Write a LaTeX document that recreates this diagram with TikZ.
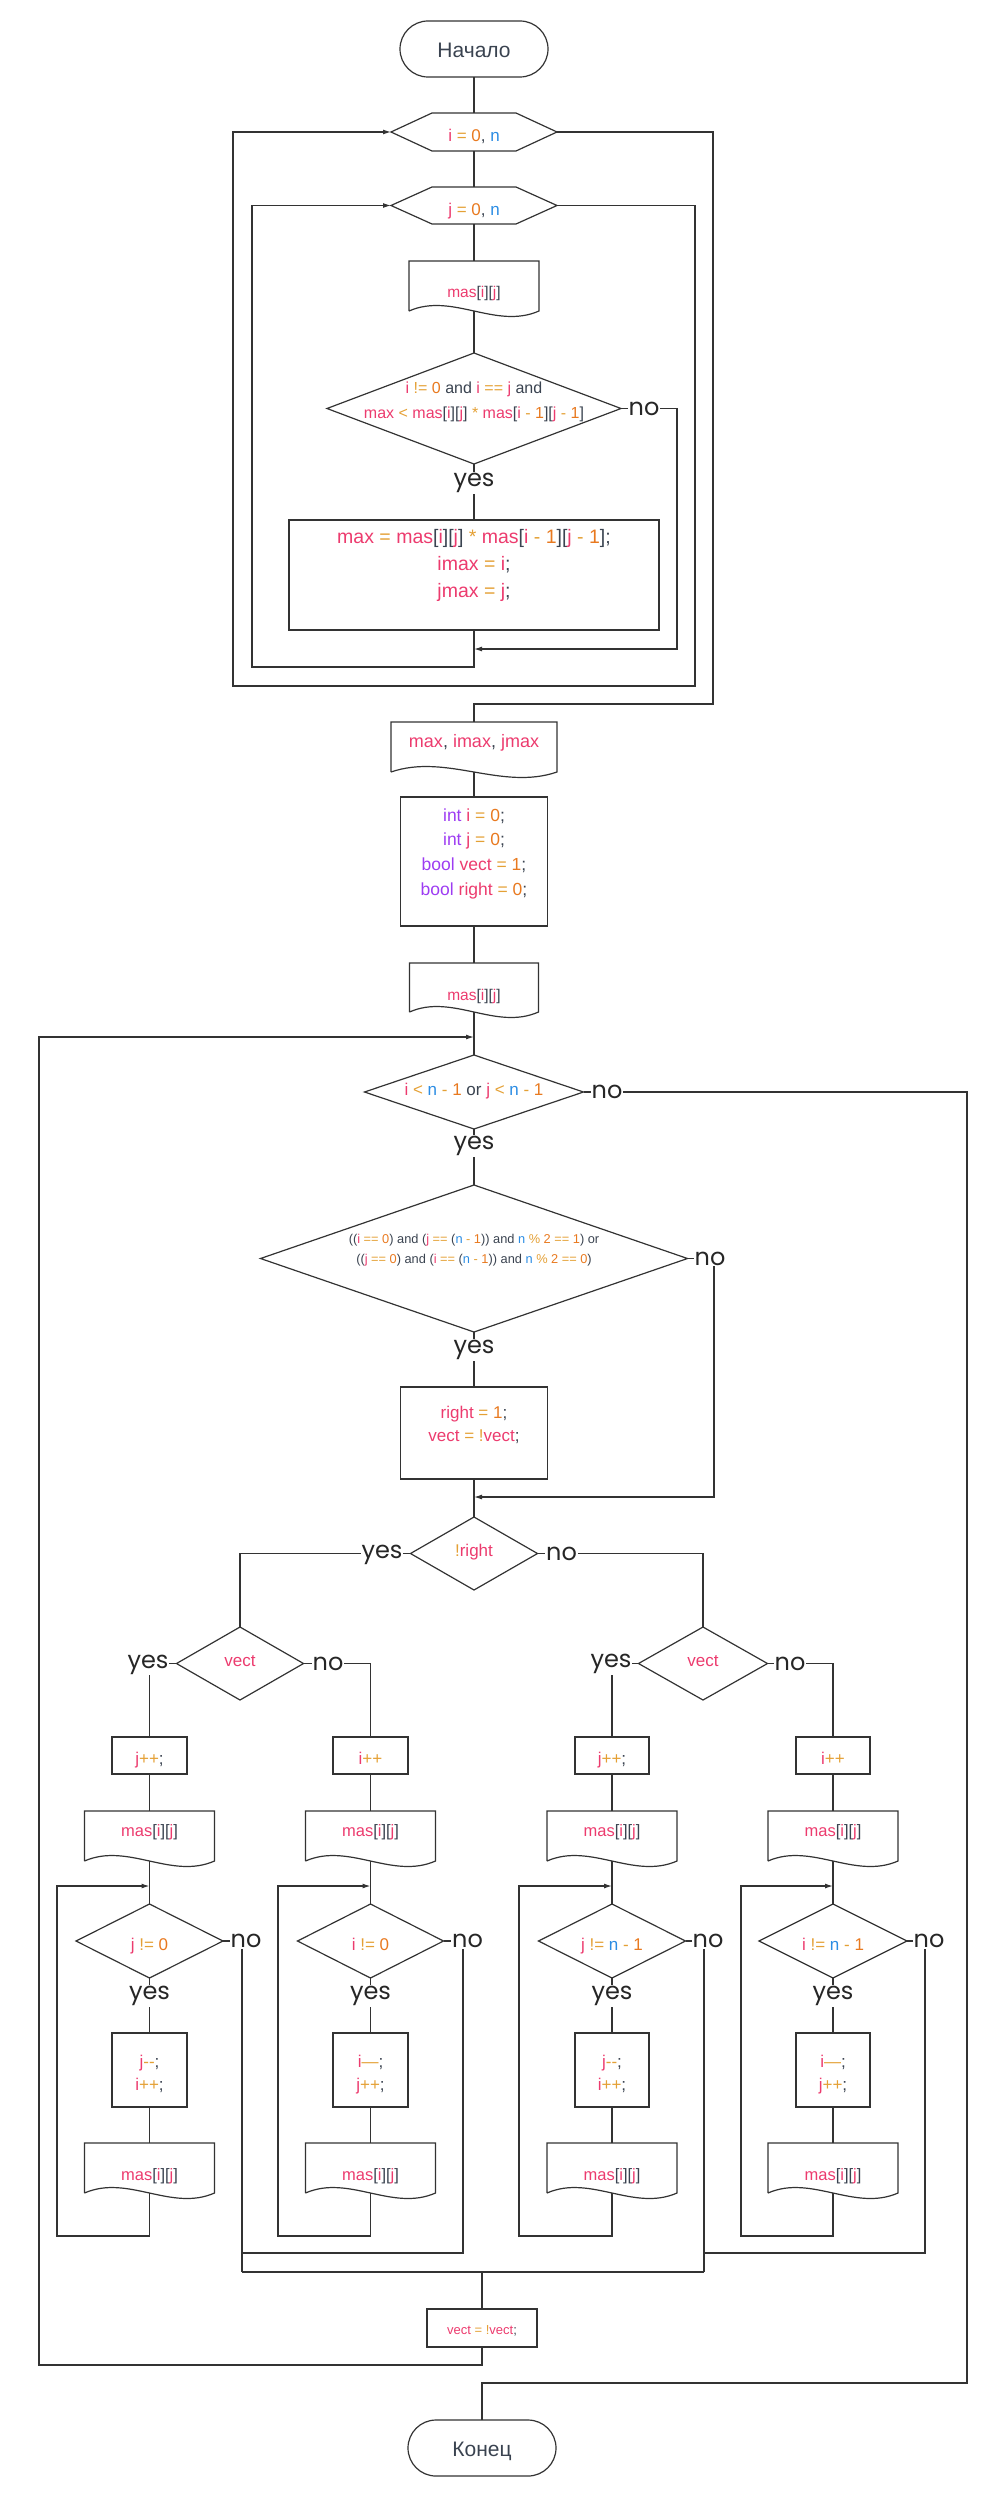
\documentclass[tikz,border=0pt]{standalone}
\usepackage{fontspec}
\setmainfont{Liberation Sans}
\newfontfamily\lblfont{Poppins}
\usetikzlibrary{arrows.meta,calc}
\definecolor{cvar}{HTML}{EC3B6E}
\definecolor{cop}{HTML}{E4A035}
\definecolor{cnum}{HTML}{E8791F}
\definecolor{cblu}{HTML}{2B8CE3}
\definecolor{ckw}{HTML}{9D3CF2}
\definecolor{cgr}{HTML}{3A4350}
\definecolor{lc}{HTML}{333333}
\newcommand\cVar[1]{\textcolor{cvar}{#1}}
\newcommand\cOp[1]{\textcolor{cop}{#1}}
\newcommand\cNum[1]{\textcolor{cnum}{#1}}
\newcommand\cBl[1]{\textcolor{cblu}{#1}}
\newcommand\cKw[1]{\textcolor{ckw}{#1}}
\newcommand\masij{\cVar{mas}[\cVar{i}][\cVar{j}]}
\newcommand\fs[2]{\fontsize{#1pt}{#2pt}\selectfont}
\newcommand\tx[2]{\raisebox{-#1pt}[0pt][0pt]{\begin{tabular}[t]{@{}c@{}}#2\end{tabular}}}
\newcommand\dmd[1]{\draw[ln] (#1.north) -- (#1.east) -- (#1.south) -- (#1.west) -- cycle;}
\newcommand\hexa[1]{\draw[ln] (#1.west) -- ([xshift=41pt]#1.north west) -- ([xshift=-41pt]#1.north east) -- (#1.east) -- ([xshift=-41pt]#1.south east) -- ([xshift=41pt]#1.south west) -- cycle;}
\newcommand\wdoc[1]{\draw[ln] (#1.south west) -- (#1.north west) -- (#1.north east) -- (#1.south east) .. controls ($(#1.south east)!0.333!(#1.south west)+(0,19)$) and ($(#1.south east)!0.667!(#1.south west)+(0,-19)$) .. (#1.south west);}
\tikzset{
  ln/.style={draw=lc, line width=1.2pt},
  arr/.style={ln, -{Latex[length=8pt,width=5pt]}},
  shp/.style={inner sep=0pt, outer sep=0pt, text=cgr},
  pbox/.style={shp, draw=lc, line width=1.2pt},
  term/.style={pbox, rounded corners=28pt, minimum width=148pt, minimum height=56pt, font=\fs{21}{25}},
  lbl/.style={font=\lblfont\fs{24}{24}, fill=white, inner sep=1pt, text=black!85}
}
\begin{document}
\begin{tikzpicture}[x=1pt,y=-1pt]
\useasboundingbox (0,0) rectangle (1002,2499);
% ---------- top part ----------
\node[term] (start) at (474,49) {\tx{8.3}{Начало}};
\node[shp, minimum width=166pt, minimum height=38pt, font=\fs{17}{22}] (hexI) at (474,132) {\tx{9.7}{\cVar{i} \cOp{=} \cNum{0}, \cBl{n}}};
\node[shp, minimum width=166pt, minimum height=37pt, font=\fs{17}{22}] (hexJ) at (474,205.5) {\tx{9.8}{\cVar{j} \cOp{=} \cNum{0}, \cBl{n}}};
\node[shp, minimum width=130pt, minimum height=50pt, font=\fs{15.5}{20}] (doc1) at (474,286) {\tx{12}{\masij}};
\node[shp, minimum width=294pt, minimum height=111pt, font=\fs{16}{25}] (dia1) at (474,408.5) {\tx{-15.2}{\cVar{i} \cOp{!=} \cNum{0} and \cVar{i} \cOp{==} \cVar{j} and\\ \cVar{max} \cOp{<} \masij{} \cOp{*} \cVar{mas}[\cVar{i} \cOp{-} \cNum{1}][\cVar{j} \cOp{-} \cNum{1}]}};
\node[pbox, minimum width=370pt, minimum height=110pt, font=\fs{19.5}{27.2}] (proc1) at (474,575) {\tx{-31.7}{\cVar{max} \cOp{=} \masij{} \cOp{*} \cVar{mas}[\cVar{i} \cOp{-} \cNum{1}][\cVar{j} \cOp{-} \cNum{1}];\\ \cVar{imax} \cOp{=} \cVar{i};\\ \cVar{jmax} \cOp{=} \cVar{j};}};
% ---------- middle part ----------
\node[shp, minimum width=166pt, minimum height=50pt, font=\fs{18}{22}] (doc2) at (474,747) {\tx{0}{\cVar{max}, \cVar{imax}, \cVar{jmax}}};
\node[pbox, minimum width=147pt, minimum height=129pt, font=\fs{17.5}{24.7}] (proc2) at (474,861.5) {\tx{-40.5}{\cKw{int} \cVar{i} \cOp{=} \cNum{0};\\ \cKw{int} \cVar{j} \cOp{=} \cNum{0};\\ \cKw{bool} \cVar{vect} \cOp{=} \cNum{1};\\ \cKw{bool} \cVar{right} \cOp{=} \cNum{0};}};
\node[shp, minimum width=129pt, minimum height=49pt, font=\fs{15.5}{20}] (doc3) at (474,987.5) {\tx{12.5}{\masij}};
\node[shp, minimum width=219pt, minimum height=74pt, font=\fs{17}{22}] (dia2) at (474,1092) {\tx{3.7}{\cVar{i} \cOp{<} \cBl{n} \cOp{-} \cNum{1} or \cVar{j} \cOp{<} \cBl{n} \cOp{-} \cNum{1}}};
\node[shp, minimum width=427pt, minimum height=147pt, font=\fs{12.8}{20}] (dia3) at (474,1258.5) {\tx{-15.2}{((\cVar{i} \cOp{==} \cNum{0}) and (\cVar{j} \cOp{==} (\cBl{n} \cOp{-} \cNum{1})) and \cBl{n} \cOp{\%} \cNum{2} \cOp{==} \cNum{1}) or\\ ((\cVar{j} \cOp{==} \cNum{0}) and (\cVar{i} \cOp{==} (\cBl{n} \cOp{-} \cNum{1})) and \cBl{n} \cOp{\%} \cNum{2} \cOp{==} \cNum{0})}};
\node[pbox, minimum width=147pt, minimum height=92pt, font=\fs{17}{23.4}] (proc3) at (474,1433) {\tx{-14.7}{\cVar{right} \cOp{=} \cNum{1};\\ \cVar{vect} \cOp{=} \cOp{!}\cVar{vect};}};
\node[shp, minimum width=127pt, minimum height=73pt, font=\fs{17}{22}] (dia4) at (474,1553.5) {\tx{3.2}{\cOp{!}\cVar{right}}};
% ---------- branches ----------
\node[shp, minimum width=127pt, minimum height=73pt, font=\fs{17}{22}] (dL) at (240,1663.5) {\tx{3.2}{\cVar{vect}}};
\node[shp, minimum width=129pt, minimum height=73pt, font=\fs{17}{22}] (dR) at (703,1663.5) {\tx{3.2}{\cVar{vect}}};
\node[pbox, minimum width=75pt, minimum height=37pt, font=\fs{17}{22}] (bA) at (149.5,1755.5) {\tx{8.5}{\cVar{j}\cOp{++};}};
\node[pbox, minimum width=75pt, minimum height=37pt, font=\fs{17}{22}] (bB) at (370.5,1755.5) {\tx{8.5}{\cVar{i}\cOp{++}}};
\node[pbox, minimum width=74pt, minimum height=37pt, font=\fs{17}{22}] (bC) at (612,1755.5) {\tx{8.5}{\cVar{j}\cOp{++};}};
\node[pbox, minimum width=74pt, minimum height=37pt, font=\fs{17}{22}] (bD) at (833,1755.5) {\tx{8.5}{\cVar{i}\cOp{++}}};
\foreach \nm/\xx in {dA/149.5,dB/370.5,dC/612,dD/833}{
  \node[shp, minimum width=130pt, minimum height=50pt, font=\fs{16.5}{20}] (\nm) at (\xx,1836) {\tx{0.7}{\masij}};
}
\node[shp, minimum width=147pt, minimum height=74pt, font=\fs{17}{22}] (qA) at (149.5,1941) {\tx{9}{\cVar{j} \cOp{!=} \cNum{0}}};
\node[shp, minimum width=146pt, minimum height=74pt, font=\fs{17}{22}] (qB) at (370.5,1941) {\tx{9}{\cVar{i} \cOp{!=} \cNum{0}}};
\node[shp, minimum width=147pt, minimum height=74pt, font=\fs{17}{22}] (qC) at (612,1941) {\tx{9}{\cVar{j} \cOp{!=} \cBl{n} \cOp{-} \cNum{1}}};
\node[shp, minimum width=148pt, minimum height=74pt, font=\fs{17}{22}] (qD) at (833,1941) {\tx{9}{\cVar{i} \cOp{!=} \cBl{n} \cOp{-} \cNum{1}}};
\node[pbox, minimum width=75pt, minimum height=74pt, font=\fs{17}{23.5}] (eA) at (149.5,2070) {\tx{-3}{\cVar{j}\cOp{-{}-};\\ \cVar{i}\cOp{++};}};
\node[pbox, minimum width=75pt, minimum height=74pt, font=\fs{17}{23.5}] (eB) at (370.5,2070) {\tx{-3}{\cVar{i}\cOp{—};\\ \cVar{j}\cOp{++};}};
\node[pbox, minimum width=74pt, minimum height=74pt, font=\fs{17}{23.5}] (eC) at (612,2070) {\tx{-3}{\cVar{j}\cOp{-{}-};\\ \cVar{i}\cOp{++};}};
\node[pbox, minimum width=74pt, minimum height=74pt, font=\fs{17}{23.5}] (eD) at (833,2070) {\tx{-3}{\cVar{i}\cOp{—};\\ \cVar{j}\cOp{++};}};
\foreach \nm/\xx in {fA/149.5,fB/370.5,fC/612,fD/833}{
  \node[shp, minimum width=130pt, minimum height=50pt, font=\fs{16.5}{20}] (\nm) at (\xx,2168) {\tx{12.7}{\masij}};
}
\node[pbox, minimum width=110pt, minimum height=38pt, font=\fs{13}{16}] (vb) at (482,2328) {\tx{6}{\cVar{vect} \cOp{=} \cOp{!}\cVar{vect};}};
\node[term] (fin) at (482,2448) {\tx{8.7}{Конец}};
% ---------- outlines ----------
\hexa{hexI} \hexa{hexJ}
\wdoc{doc1} \wdoc{doc2} \wdoc{doc3}
\dmd{dia1} \dmd{dia2} \dmd{dia3} \dmd{dia4} \dmd{dL} \dmd{dR}
\dmd{qA} \dmd{qB} \dmd{qC} \dmd{qD}
\wdoc{dA} \wdoc{dB} \wdoc{dC} \wdoc{dD}
\wdoc{fA} \wdoc{fB} \wdoc{fC} \wdoc{fD}
% ---------- coordinates ----------
\coordinate (j1) at (474,649);
\coordinate (c1) at (677,649);
\coordinate (c2) at (252,667);
\coordinate (c3) at (695,686);
\coordinate (c4) at (233,686);
\coordinate (c5) at (713,704);
\coordinate (jM) at (474,1037);
\coordinate (j3) at (474,1497);
\coordinate (c6) at (714,1497);
\coordinate (jA) at (149.5,1886); \coordinate (lA) at (57,2236);
\coordinate (jB) at (370.5,1886); \coordinate (lB) at (278,2236);
\coordinate (jC) at (612,1886); \coordinate (lC) at (519,2236);
\coordinate (jD) at (833,1886); \coordinate (lD) at (741,2236);
\coordinate (mA) at (242,2272); \coordinate (mC) at (704,2272);
\coordinate (kA) at (242,2253); \coordinate (kB) at (463,2253);
\coordinate (kC) at (704,2253); \coordinate (kD) at (925,2253);
\coordinate (mM) at (482,2272);
\coordinate (lM) at (39,2365);
\coordinate (cE) at (967,2383);
% ---------- connectors: top ----------
\draw[ln] (start.south) -- (hexI.north);
\draw[ln] (hexI.south) -- (hexJ.north);
\draw[ln] (hexJ.south) -- (doc1.north);
\draw[ln] (doc1.south) -- (dia1.north);
\draw[ln] (dia1.south) -- (proc1.north);
\draw[arr] (dia1.east) -| (c1) -- (j1);
\draw[arr] (proc1.south) |- (c2) |- (hexJ.west);
\draw[arr] (hexJ.east) -| (c3) -- (c4) |- (hexI.west);
\draw[ln] (hexI.east) -| (c5) -| (doc2.north);
% ---------- connectors: middle ----------
\draw[ln] (doc2.south) -- (proc2.north);
\draw[ln] (proc2.south) -- (doc3.north);
\draw[ln] (doc3.south) -- (dia2.north);
\draw[ln] (dia2.south) -- (dia3.north);
\draw[ln] (dia3.south) -- (proc3.north);
\draw[arr] (dia3.east) -| (c6) -- (j3);
\draw[ln] (proc3.south) -- (dia4.north);
\draw[ln] (dia4.west) -| (dL.north);
\draw[ln] (dia4.east) -| (dR.north);
\draw[ln] (dL.west) -| (bA.north);
\draw[ln] (dL.east) -| (bB.north);
\draw[ln] (dR.west) -| (bC.north);
\draw[ln] (dR.east) -| (bD.north);
\foreach \c in {A,B,C,D}{
  \draw[ln] (b\c.south) -- (d\c.north);
  \draw[ln] (d\c.south) -- (q\c.north);
  \draw[ln] (q\c.south) -- (e\c.north);
  \draw[ln] (e\c.south) -- (f\c.north);
  \draw[arr] (f\c.south) |- (l\c) |- (j\c);
}
\draw[ln] (qA.east) -| (mA);
\draw[ln] (qB.east) -| (kB) -- (kA);
\draw[ln] (qC.east) -| (mC);
\draw[ln] (qD.east) -| (kD) -- (kC);
\draw[ln] (mA) -- (mC);
\draw[ln] (mM) -- (vb.north);
\draw[arr] (vb.south) |- (lM) |- (jM);
\draw[ln] (dia2.east) -| (cE) -| (fin.north);
% ---------- labels ----------
\node[lbl] (y1) at (474,483) {yes};
\node[lbl] (n1) at (644,409) {no};
\node[lbl] (n2) at (607,1092) {no};
\node[lbl] (y2) at (474,1146) {yes};
\node[lbl] (n3) at (710,1258.5) {no};
\node[lbl] (y3) at (474,1350) {yes};
\node[lbl] (y4) at (382,1555) {yes};
\node[lbl] (n4) at (561.5,1553.5) {no};
\node[lbl] (yL) at (148,1664.5) {yes};
\node[lbl] (nL) at (328,1663.5) {no};
\node[lbl] (yR) at (611,1664) {yes};
\node[lbl] (nR) at (790,1663.5) {no};
\node[lbl] (yA) at (149.5,1996) {yes};
\node[lbl] (yB) at (370.5,1996) {yes};
\node[lbl] (yC) at (612,1996) {yes};
\node[lbl] (yD) at (833,1996) {yes};
\node[lbl] (nA) at (246,1941) {no};
\node[lbl] (nB) at (467.5,1941) {no};
\node[lbl] (nC) at (708,1941) {no};
\node[lbl] (nD) at (929,1941) {no};
\end{tikzpicture}
\end{document}
